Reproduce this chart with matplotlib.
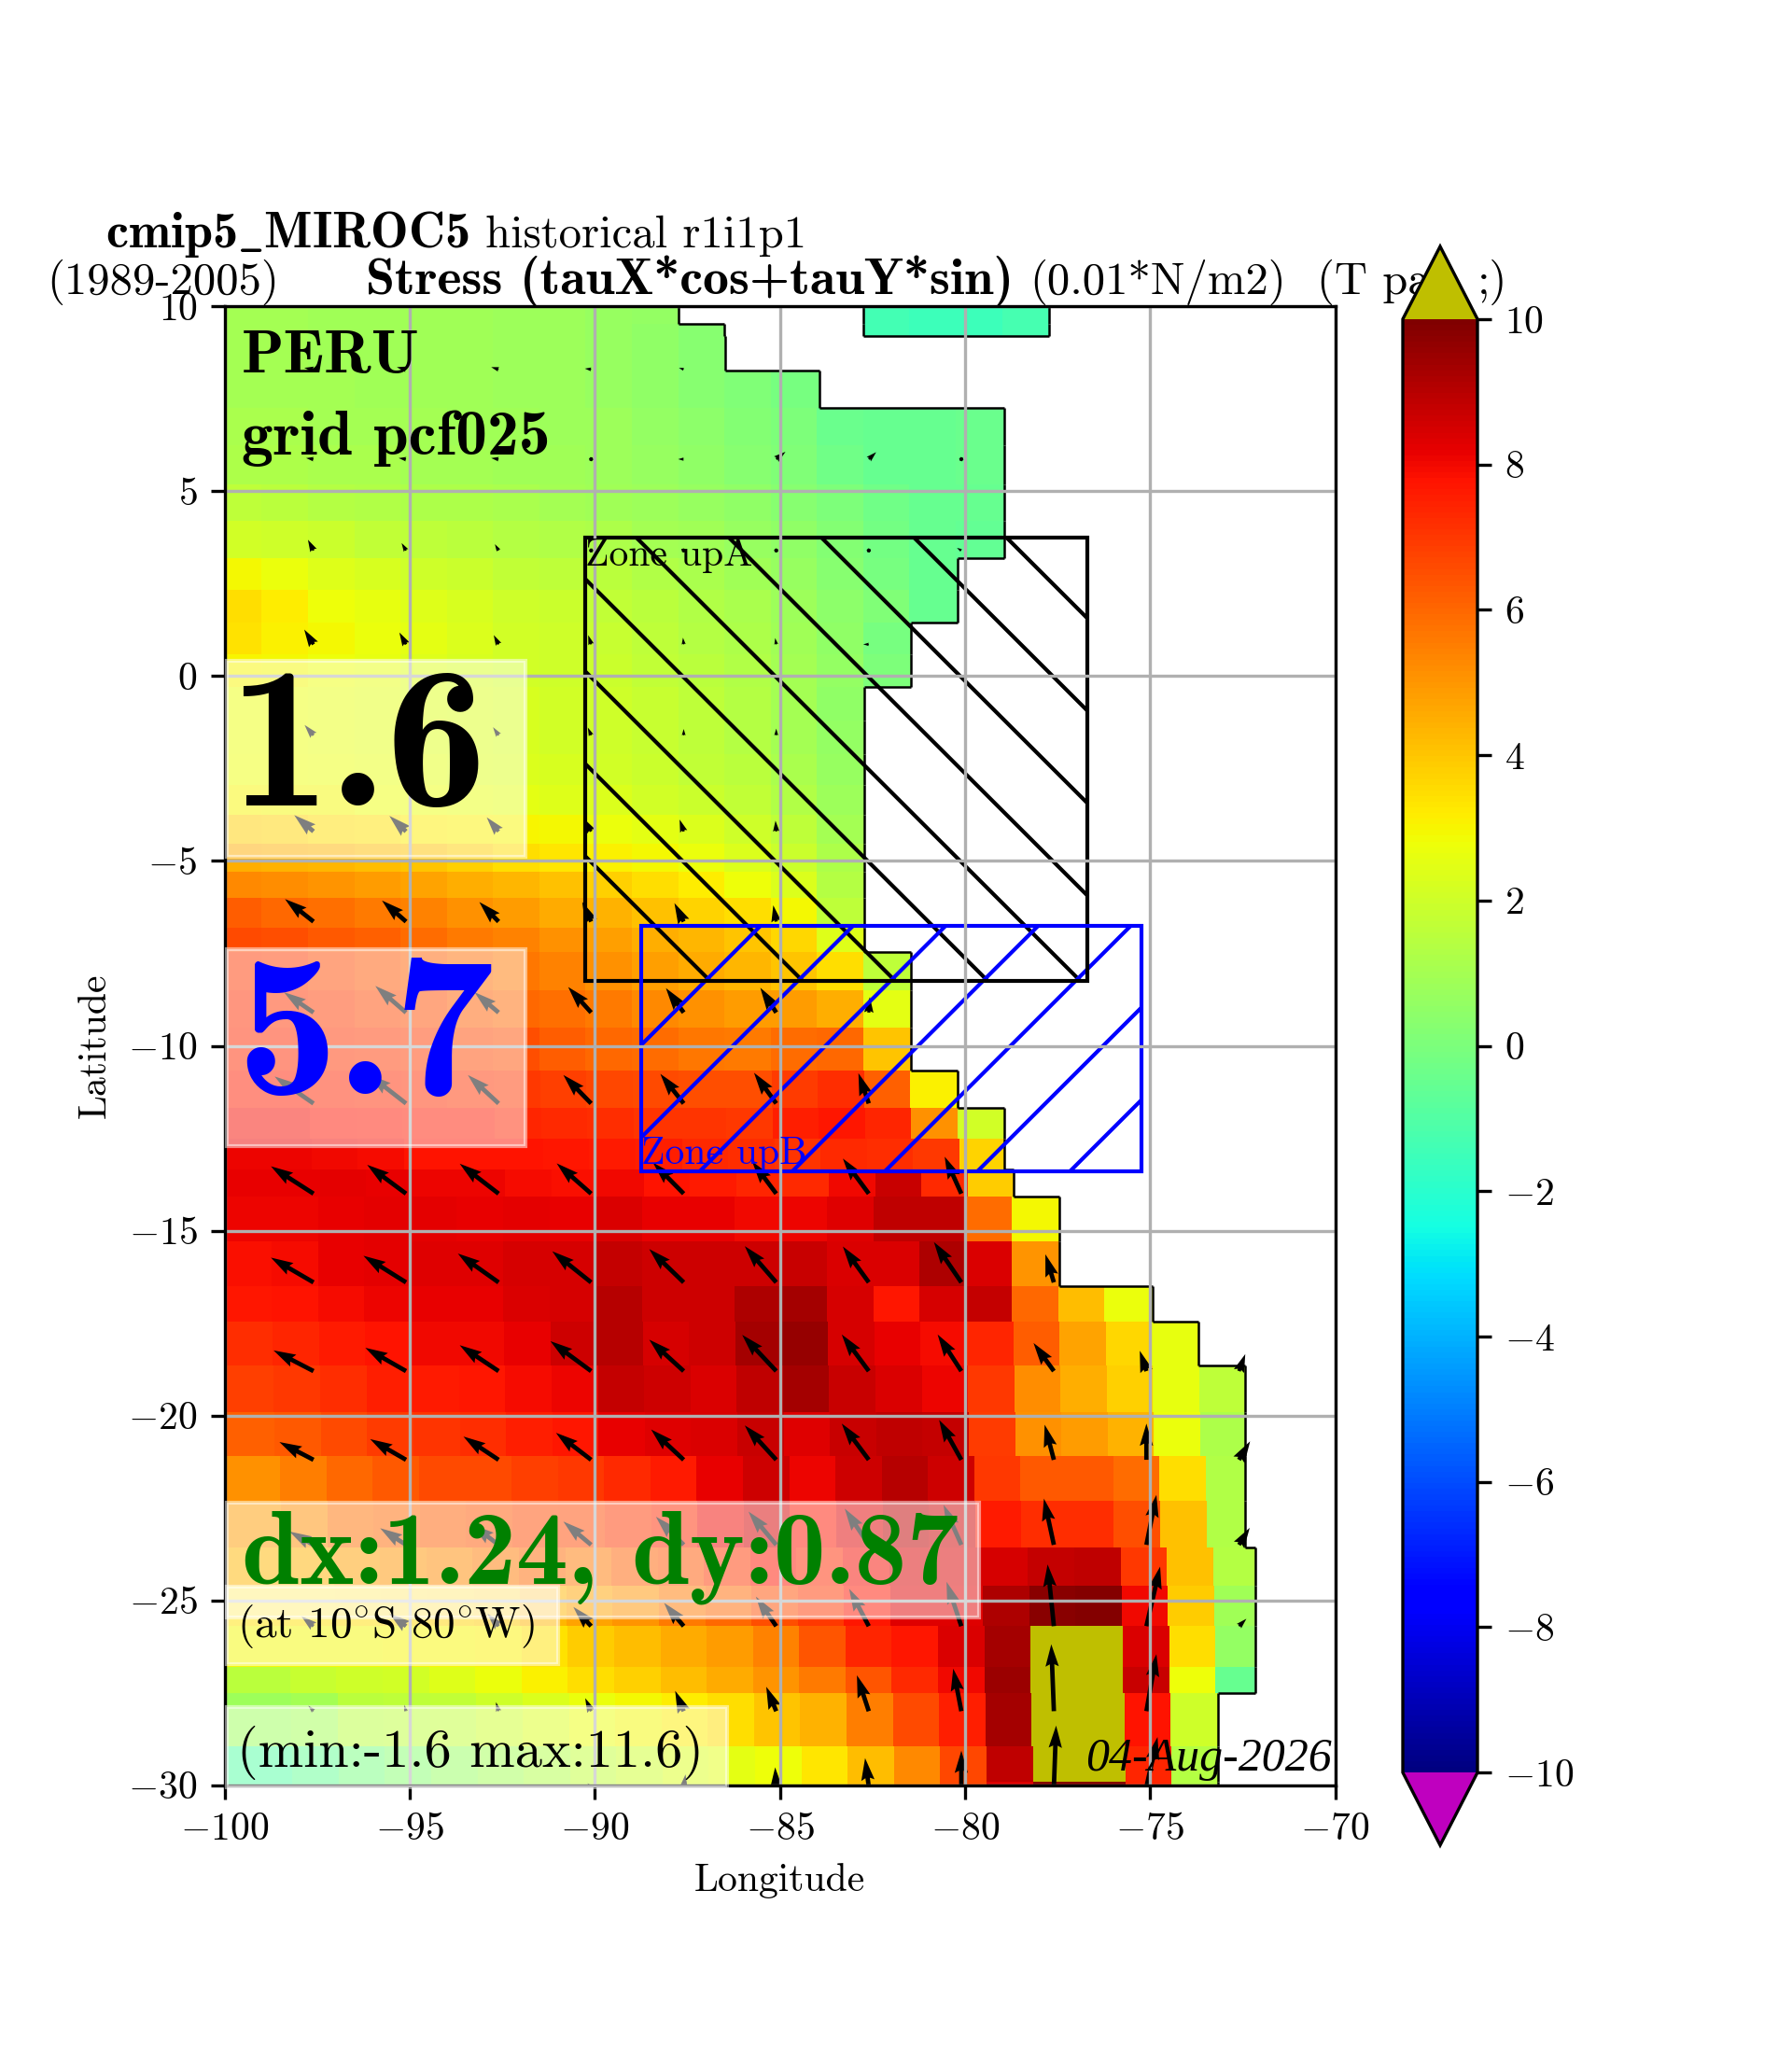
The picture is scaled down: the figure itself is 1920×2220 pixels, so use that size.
import numpy as np
import matplotlib
matplotlib.use('Agg')
import matplotlib.pyplot as plt
from matplotlib.colors import Normalize
from matplotlib.cm import ScalarMappable
from matplotlib.collections import LineCollection
from matplotlib.patches import Rectangle

plt.rcParams['font.family'] = ['cmr10', 'DejaVu Serif']
plt.rcParams['mathtext.fontset'] = 'cm'
plt.rcParams['axes.formatter.use_mathtext'] = True
plt.rcParams['axes.unicode_minus'] = True

_ = np.nan
lon_edges = [-100.25 + 1.25 * k for k in range(24)]
lat_edges = [10.75, 9.53, 9.2, 8.27, 7.27, 6.25, 5.2, 4.2, 3.2, 2.33, 1.46, .58, -.28, -1.2, -2.1, -2.95,
             -3.75, -4.53, -5.28, -6.0, -6.8, -7.46, -8.49, -9.5, -10.67, -11.67, -12.5, -13.35, -14.08,
             -15.3, -16.5, -17.47, -18.66, -19.9, -21.1, -22.3, -23.56, -24.6, -25.7, -26.8, -27.5,
             -28.95, -29.9, -30.3]
row_shift = [0] * 24 + [.02, .05, .1, .32, .27, .27, .27, .3, .33, .35, .5, .52, .7, .73, .77, .77, .8, .83, .83]
east_coast = [-77.72, -77.72, -86.47, -83.94, -78.93, -78.93, -78.93, -78.93, -80.2, -80.2, -81.45, -81.45,
              -82.72, -82.72, -82.72, -82.72, -82.72, -82.72, -82.72, -82.72, -82.72, -81.45, -81.45, -81.45,
              -80.2, -78.93, -78.93, -78.68, -77.45, -77.45, -74.94, -73.7, -72.44, -72.44, -72.44, -72.44,
              -72.17, -72.17, -72.17, -72.17, -73.17, -73.17, -73.17]

field = [
 [1.0,1.0,.9,.9,.9,.9,.8,.8,.7,.6,_,_,_,_,-1.4,-1.5,-1.5,-1.3],
 [1.0,1.0,.9,.9,.9,.9,.8,.8,.7,.5,.3,_,_,_,-1.4,-1.5,-1.5,-1.3],
 [1.0,1.0,.9,.9,.9,.9,.8,.8,.7,.5,.3],
 [1.0,1.0,1.0,.9,.9,.9,.8,.8,.7,.5,.3,.1,-.1],
 [1.1,1.1,1.0,1.0,1.0,.9,.9,.8,.8,.6,.4,.2,0,-.4,-.5,-.5,-.4],
 [1.2,1.2,1.1,1.1,1.0,1.0,.9,.9,.8,.7,.5,.3,.1,-.3,-.5,-.5,-.4],
 [1.6,1.5,1.4,1.3,1.2,1.2,1.1,1.0,.9,.8,.7,.5,.3,0,-.3,-.5,-.5],
 [2.1,2.0,1.9,1.7,1.6,1.5,1.4,1.3,1.2,1.0,.9,.7,.5,.2,-.2,-.5,-.6],
 [2.9,2.7,2.4,2.2,2.0,1.9,1.7,1.6,1.5,1.3,1.1,.9,.7,.3,-.1,-.5],
 [3.5,3.2,2.8,2.6,2.4,2.2,2.0,1.9,1.7,1.5,1.3,1.1,.8,.4,.1,-.5],
 [3.4,3.1,2.9,2.7,2.5,2.3,2.1,2.0,1.8,1.6,1.4,1.2,.9,.5,-.1],
 [3.0,2.9,2.8,2.6,2.4,2.2,2.1,2.0,1.9,1.7,1.5,1.3,1.0,.6,.0],
 [2.7,2.7,2.6,2.5,2.4,2.3,2.2,2.1,2.0,1.8,1.6,1.4,1.0,.5],
 [2.7,2.7,2.6,2.5,2.4,2.3,2.2,2.1,2.0,1.8,1.6,1.4,1.0,.6],
 [2.8,2.8,2.7,2.6,2.5,2.4,2.3,2.2,2.1,1.9,1.7,1.5,1.1,.7],
 [3.0,2.9,2.9,2.8,2.7,2.6,2.5,2.4,2.3,2.1,1.9,1.7,1.3,.8],
 [3.8,3.7,3.5,3.4,3.2,3.1,3.0,2.9,2.7,2.5,2.3,2.0,1.6,1.0],
 [4.5,4.4,4.3,4.2,4.0,3.8,3.5,3.3,3.1,2.9,2.7,2.3,1.9,1.2],
 [5.3,5.2,5.0,4.9,4.7,4.5,4.3,4.1,3.8,3.5,3.2,2.8,2.3,1.4],
 [6.2,6.0,5.8,5.6,5.4,5.1,4.9,4.6,4.4,4.1,3.7,3.5,2.9,1.6],
 [6.6,6.5,6.3,6.1,5.9,5.6,5.4,5.1,4.8,4.5,4.3,4.0,3.6,2.4],
 [7.0,6.9,6.6,6.4,6.1,5.9,5.7,5.4,5.1,4.8,4.6,4.3,4.0,3.5,1.6],
 [7.2,7.1,6.9,6.7,6.5,6.2,6.0,5.8,5.6,5.3,5.1,4.9,4.9,4.5,2.5],
 [7.3,7.3,7.1,7.0,6.9,6.7,6.5,6.2,6.0,5.9,5.7,5.6,5.9,6.0,4.0],
 [7.5,7.5,7.4,7.3,7.2,7.1,7.0,6.8,6.7,6.6,6.5,6.5,6.9,7.2,6.1,3.1],
 [7.9,7.9,7.8,7.7,7.6,7.6,7.4,7.3,7.2,7.1,7.1,7.0,7.5,7.7,7.4,5.1,2.1],
 [8.1,8.1,8.0,7.9,7.8,7.8,7.8,7.7,7.6,7.5,7.3,7.2,7.1,7.3,7.2,7.0,3.7],
 [8.15,8.15,8.25,8.15,8.05,8.05,7.95,7.85,8.0,7.8,7.6,7.4,7.3,8.0,8.7,7.3,3.9],
 [8.05,8.05,8.15,8.25,8.25,8.15,8.25,8.15,8.4,8.2,8.2,8.0,8.1,8.3,8.9,8.9,5.9,2.9],
 [7.85,7.95,8.15,8.25,8.35,8.35,8.45,8.45,8.8,8.6,8.6,8.6,8.7,8.4,8.4,9.2,8.4,5.0],
 [7.7,7.8,7.9,8.1,8.2,8.2,8.4,8.5,9.0,8.6,8.6,9.2,9.3,8.5,7.7,8.5,8.8,6.0,4.2,2.7],
 [7.2,7.4,7.6,7.8,8.0,8.0,8.2,8.6,9.0,8.5,8.6,9.3,9.6,8.5,8.2,7.9,7.4,6.2,4.7,3.6,2.6],
 [6.8,7.0,7.2,7.5,7.6,7.7,7.9,8.1,8.8,8.6,8.4,8.9,9.3,8.7,8.4,8.1,7.0,5.2,4.5,3.8,2.6,1.6],
 [6.1,6.3,6.6,6.9,7.1,7.2,7.5,7.7,8.2,8.3,8.4,8.7,8.3,8.7,8.9,8.8,6.9,5.1,4.9,4.4,2.7,1.2],
 [5.1,5.5,6.0,6.3,6.6,6.6,6.8,7.0,7.3,7.6,8.2,8.6,8.1,8.6,9.0,8.6,7.0,6.3,6.3,5.9,3.5,1.3],
 [4.9,5.2,5.8,6.0,6.2,6.4,6.6,6.7,7.0,7.3,8.0,8.5,7.7,8.3,8.9,8.6,7.6,7.2,7.2,6.5,4.1,1.3],
 [4.3,4.4,4.8,5.0,5.3,5.6,6.0,5.7,6.1,6.4,7.0,7.7,7.3,7.9,8.4,8.4,8.5,8.8,8.9,7.0,4.1,1.4],
 [3.4,3.4,3.5,3.6,3.7,3.9,4.3,4.7,5.0,5.6,6.0,6.5,7.0,7.7,8.3,8.3,9.2,9.8,9.9,8.0,3.9,.9],
 [2.9,2.9,2.9,3.0,3.0,3.1,3.4,3.9,4.2,4.6,4.9,5.4,6.4,7.4,7.7,8.4,9.3,11,11,8.4,3.5,.6],
 [1.5,1.8,2.0,2.1,2.4,2.7,3.1,3.5,3.8,4.2,4.6,5.0,5.6,6.4,7.3,8.0,9.5,11,11,8.7,2.8,-.5],
 [.8,1.0,1.5,1.6,1.7,2.0,2.3,2.7,2.9,3.2,3.5,4.0,4.4,5.5,6.6,7.5,9.3,11,11,7.8,2.0],
 [-1.0,-.6,-.1,.3,.7,1.0,1.3,1.7,2.0,2.3,2.5,2.8,3.3,4.2,5.3,6.7,8.9,11,11,7.4,1.4],
 [-1.0,-.6,-.1,.3,.7,1.0,1.3,1.7,2.0,2.3,2.5,2.8,3.3,4.2,5.3,6.7,8.3,9.9,9.9,7.4,1.4],
]

arrow_lon = [-97.6, -95.1, -92.6, -90.1, -87.6, -85.1, -82.6, -80.1, -77.6, -75.1, -72.6]
arrow_lat = [8.3, 5.87, 3.4, .86, -1.6, -4.2, -6.64, -9.1, -11.56, -14.0, -16.4, -18.8, -21.2, -23.5, -25.7, -28.0, -30.05]
arrow_u = [
 [-.25,-.25,-.2,-.17,-.13,_,_,_,_,_,_],
 [-.2,-.2,-.2,.01,-.15,.25,.2,.01,_,_,_],
 [-.15,-.12,-.10,-.06,.01,.01,.01,-.12,_,_,_],
 [-.25,-.18,-.13,-.08,-.02,-.03,-.15,_,_,_,_],
 [-.24,-.15,-.15,-.09,0,0,_,_,_,_,_],
 [-.52,-.45,-.32,-.2,-.11,-.02,_,_,_,_,_],
 [-.77,-.65,-.52,-.24,-.25,-.08,_,_,_,_,_],
 [-.80,-.83,-.65,-.62,-.48,-.43,.03,_,_,_,_],
 [-1.05,-1.0,-.83,-.75,-.63,-.60,-.28,_,_,_,_],
 [-1.15,-1.05,-1.05,-.93,-.83,-.65,-.70,-.45,_,_,_],
 [-1.15,-1.15,-1.1,-1.05,-.93,-.85,-.70,-.74,-.23,_,_],
 [-1.08,-1.10,-1.05,-1.10,-.93,-.92,-.73,-.64,-.55,-.18,.17],
 [-.92,-.97,-.95,-.95,-.88,-.85,-.73,-.60,-.25,0,.30],
 [-.65,-.70,-.72,-.75,-.75,-.75,-.65,-.48,-.27,.27,.29],
 [-.33,-.45,-.30,-.48,-.53,-.55,-.53,-.40,-.17,.37,.2],
 [-.14,-.05,-.07,-.16,-.23,-.27,-.32,-.22,-.07,.27,_],
 [_,_,-.2,-.1,.05,-.03,-.1,0,.06,.3,_],
]
arrow_v = [
 [.04,.06,.06,.02,.04,_,_,_,_,_,_],
 [.03,.03,.03,.01,0,.2,.19,.01,_,_,_],
 [.29,.2,.17,.08,.01,.01,.01,.07,_,_,_],
 [.40,.32,.25,.25,.18,.17,0,_,_,_,_],
 [.28,.27,.22,.21,.17,.18,_,_,_,_,_],
 [.44,.42,.38,.35,.32,.29,_,_,_,_,_],
 [.61,.57,.53,.53,.5,.44,_,_,_,_,_],
 [.55,.72,.55,.69,.66,.67,.42,_,_,_,_],
 [.73,.78,.77,.77,.80,.83,.82,_,_,_,_],
 [.74,.78,.81,.82,.84,.87,.95,1.0,_,_,_],
 [.67,.72,.78,.84,.90,.98,.97,1.09,.76,_,_],
 [.56,.63,.70,.81,.85,.98,.99,.99,.76,.55,.46],
 [.48,.56,.63,.73,.82,.93,.98,1.08,.95,.98,.5],
 [.36,.45,.55,.63,.76,.90,.98,1.08,1.25,1.35,.46],
 [.27,.34,.34,.52,.63,.80,1.01,1.2,1.67,1.61,.2],
 [.15,.17,.24,.35,.55,.66,.97,1.15,1.81,1.54,_],
 [_,_,.05,.1,.34,.53,.78,.98,1.66,1.35,_],
]

zone_a = (-90.27, -76.7, -8.25, 3.74)
zone_b = (-88.76, -75.24, -13.4, -6.76)
xtick_vals = list(range(-100, -65, 5))
ytick_vals = list(range(-30, 15, 5))
cbar_ticks = list(range(-10, 12, 2))

W, H = 1920, 2220
AX_L, AX_R, AX_T, AX_B = 240.7, 1430.6, 328.4, 1912.6
fig = plt.figure(figsize=(6.4, 7.4), dpi=300)
ax = fig.add_axes([AX_L / W, 1 - AX_B / H, (AX_R - AX_L) / W, (AX_B - AX_T) / H])

cmap = plt.get_cmap('jet', 256).copy()
cmap.set_over((.75, .75, 0))
cmap.set_under((.75, 0, .75))
norm = Normalize(-10, 10)

row_runs = []
for i, row in enumerate(field):
    vals = np.full(23, np.nan)
    vals[:len(row)] = row
    x = np.array(lon_edges) + row_shift[i]
    x[0] = -101
    x[len(row)] = east_coast[i]
    x[len(row) + 1:] = east_coast[i] + 1.25 * np.arange(1, 23 - len(row) + 1)
    ax.pcolormesh(x, lat_edges[i:i + 2], np.ma.masked_invalid(vals[None, :]), cmap=cmap, norm=norm, zorder=1)
    runs, start = [], None
    for j in range(len(row) + 1):
        ok = j < len(row) and not np.isnan(vals[j])
        if ok and start is None:
            start = x[j]
        if not ok and start is not None:
            runs.append((start, x[j]))
            start = None
    row_runs.append(runs)

segs = []
for i, runs in enumerate(row_runs):
    for a, b in runs:
        segs.append([(b, lat_edges[i]), (b, lat_edges[i + 1])])
        if a > -100:
            segs.append([(a, lat_edges[i]), (a, lat_edges[i + 1])])
    if i + 1 < len(row_runs):
        nxt = row_runs[i + 1]
        xs = sorted({v for r in runs + nxt for v in r})
        inside = lambda rs, v: any(p < v < q for p, q in rs)
        for p, q in zip(xs[:-1], xs[1:]):
            m = (p + q) / 2
            if inside(runs, m) != inside(nxt, m):
                segs.append([(p, lat_edges[i + 1]), (q, lat_edges[i + 1])])
ax.add_collection(LineCollection(segs, colors='k', linewidths=.6, zorder=1.1))

U = np.ma.masked_invalid(np.array(arrow_u, float))
V = np.ma.masked_invalid(np.array(arrow_v, float))
LON, LAT = np.meshgrid(arrow_lon, arrow_lat)
ax.quiver(LON, LAT, U, V, angles='xy', scale_units='xy', scale=1, color='k', zorder=1, width=.004)


def zone(box, color, sums, sign, label, lab_xy):
    x0, x1, y0, y1 = box
    rect = Rectangle((x0, y0), x1 - x0, y1 - y0, fill=False, edgecolor=color, linewidth=1.0, zorder=1.3)
    ax.add_patch(rect)
    for s in sums:
        ln, = ax.plot([-110, -60], [s - sign * -110, s - sign * -60], color=color, lw=1.0, zorder=1.2)
        ln.set_clip_path(rect)
    ax.text(lab_xy[0], lab_xy[1], label, color=color, fontsize=10, va='baseline', ha='left', zorder=3)


zone(zone_a, 'k', [-75.13 - 2.5 * k for k in range(-1, 9)], 1, 'Zone upA', (-90.25, 3.0))
zone(zone_b, 'b', [63.77 + 2.5 * k for k in range(-3, 7)], -1, 'Zone upB', (-88.76, -13.2))

ax.set_xlim(-100, -70)
ax.set_ylim(-30, 10)
ax.set_xticks(xtick_vals)
ax.set_yticks(ytick_vals)
ax.grid(True)
ax.set_xlabel('Longitude')
ax.set_ylabel('Latitude')


def panel(px0, px1, py0, py1, z=2.9):
    lx0 = -100 + (px0 - AX_L) / (AX_R - AX_L) * 30
    lx1 = -100 + (px1 - AX_L) / (AX_R - AX_L) * 30
    ly0 = 10 - (py0 - AX_T) / (AX_B - AX_T) * 40
    ly1 = 10 - (py1 - AX_T) / (AX_B - AX_T) * 40
    ax.add_patch(Rectangle((lx0, ly1), lx1 - lx0, ly0 - ly1, facecolor='white', edgecolor='white', alpha=.5,
                           zorder=z, clip_on=False))


panel(243, 563, 708, 918)
panel(243, 563, 1017, 1228)
panel(243, 1049, 1610, 1733)
panel(243, 597.6, 1700, 1783, z=3.05)
panel(243, 779, 1829, 1915)

bold = ['cmb10', 'DejaVu Serif']
tx = -99.55
ax.text(tx, 8.23, 'PERU', family=bold, fontsize=16, va='baseline', zorder=3)
ax.text(tx, 6.0, 'grid pcf025', family=bold, fontsize=16.2, va='baseline', zorder=3)
ax.text(-99.9, -3.5, '1.6', family=bold, fontsize=52, va='baseline', zorder=3)
ax.text(-99.68, -11.3, '5.7', family=bold, fontsize=52, color='b', va='baseline', zorder=3)
ax.text(tx, -24.55, 'dx:1.24, dy:0.87', family=bold, fontsize=26.8, color='g', va='baseline', zorder=3)
ax.text(-99.66, -26.0, r'(at 10$^{\circ}$S 80$^{\circ}$W)', fontsize=11.3, va='baseline', zorder=3.1)
ax.text(-99.66, -29.5, '(min:-1.6 max:11.6)', fontsize=14.0, va='baseline', zorder=3)
ax.text(-70.1, -29.6, '04-Aug-2026', family='Liberation Serif', style='italic', fontsize=12, ha='right',
        va='baseline', zorder=3)


def head(x, y, s, size=11.7, **kw):
    fig.text(x / W, 1 - y / H, s, fontsize=size, va='baseline', ha='left', zorder=0.5, **kw)


head(113, 265, r'cmip5$\_$MIROC5', size=13.0, family=bold)
head(520, 265, 'historical r1i1p1')
head(50, 315, '(1989-2005)')
head(392, 315, 'Stress (tauX*cos+tauY*sin)', size=13.4, family=bold)
head(1103, 315, '(0.01*N/m2)')
head(1411, 315, '(T pa')
head(1583, 315, ';)')
ax.set_zorder(1)

cax = fig.add_axes([1503 / W, 1 - 1977 / H, 80 / W, 1713 / H])
cax.set_zorder(5)
cb = fig.colorbar(ScalarMappable(norm=norm, cmap=cmap), cax=cax, extend='both', ticks=cbar_ticks)
fig.savefig('out.png', dpi=300)
